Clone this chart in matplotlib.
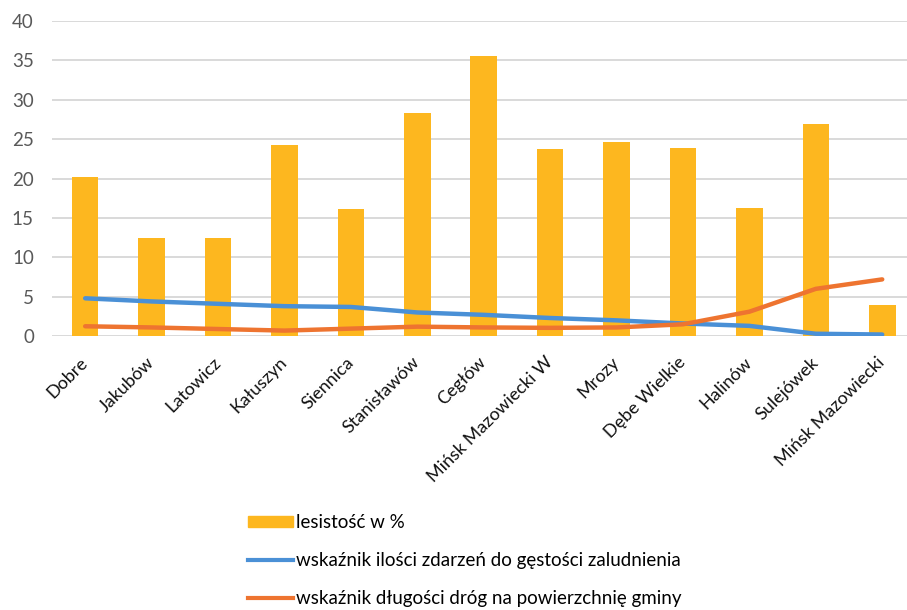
import numpy as np
import matplotlib.pyplot as plt
from matplotlib.patches import Patch
from matplotlib.lines import Line2D

plt.rcParams['font.family'] = ['Lato', 'DejaVu Sans']

gminy = ['Dobre', 'Jakubów', 'Latowicz', 'Kałuszyn', 'Siennica', 'Stanisławów',
         'Cegłów', 'Mińsk Mazowiecki W', 'Mrozy', 'Dębe Wielkie', 'Halinów',
         'Sulejówek', 'Mińsk Mazowiecki']
lesistosc = [20.2, 12.5, 12.5, 24.2, 16.1, 28.3, 35.6, 23.7, 24.6, 23.9, 16.3, 26.9, 3.9]
zdarzenia = [4.8, 4.4, 4.1, 3.8, 3.7, 3.0, 2.7, 2.3, 2.0, 1.6, 1.3, 0.3, 0.2]
drogi = [1.25, 1.1, 0.9, 0.7, 0.95, 1.2, 1.1, 1.05, 1.1, 1.5, 3.1, 6.0, 7.2]

c_bar = '#FDB71F'
c_blue = '#4A90D6'
c_orange = '#EE7430'

fig = plt.figure(figsize=(9.07, 6.10), dpi=100)
ax = fig.add_axes([0.0573, 0.449, 0.952, 0.5166])

x = np.arange(len(gminy))
ax.bar(x, lesistosc, width=0.4, color=c_bar, zorder=2)
ax.plot(x, zdarzenia, color=c_blue, lw=3.2, solid_capstyle='round', solid_joinstyle='round', zorder=3)
ax.plot(x, drogi, color=c_orange, lw=3.2, solid_capstyle='round', solid_joinstyle='round', zorder=3)

ax.set_xlim(-0.5, len(gminy) - 0.5)
ax.set_ylim(0, 40)
ax.set_yticks(range(0, 41, 5))
ax.grid(axis='y', color='#D9D9D9', lw=1.4, zorder=0)
for s in ax.spines.values():
    s.set_visible(False)
ax.tick_params(axis='both', length=0)
ax.tick_params(axis='y', labelsize=13.5, labelcolor='#595959', pad=13)
ax.set_xticks(x)
ax.set_xticklabels(gminy, rotation=45, ha='right', va='center', rotation_mode='anchor',
                   fontsize=13, color='#111111')
ax.tick_params(axis='x', pad=17)

handles = [Patch(color=c_bar),
           Line2D([], [], color=c_blue, lw=3),
           Line2D([], [], color=c_orange, lw=3)]
labels = ['lesistość w %',
          'wskaźnik ilości zdarzeń do gęstości zaludnienia',
          'wskaźnik długości dróg na powierzchnię gminy']
fig.legend(handles, labels, loc='upper left', bbox_to_anchor=(0.2734, 0.157),
           frameon=False, fontsize=13.5, handlelength=2.4, handleheight=0.55,
           handletextpad=0.15, labelspacing=1.12, borderaxespad=0, borderpad=0)

fig.savefig('out.png', dpi=100)
